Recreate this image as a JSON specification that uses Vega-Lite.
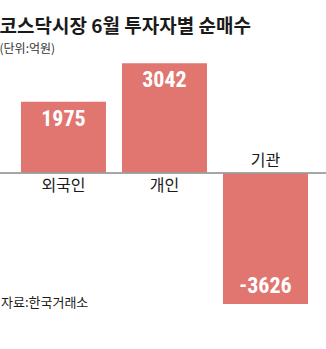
{
  "$schema": "https://vega.github.io/schema/vega-lite/v6.json",
  "width": 326,
  "height": 291,
  "autosize": {"type": "none"},
  "padding": {"left": 0, "right": 0, "top": 58, "bottom": 0},
  "background": "#ffffff",
  "config": {"view": {"stroke": null}},
  "title": {
    "text": "코스닥시장 6월 투자자별 순매수",
    "subtitle": "(단위:억원)",
    "anchor": "start",
    "offset": 3,
    "font": "Noto Sans CJK KR",
    "fontSize": 19,
    "fontWeight": "bold",
    "color": "#1a1a1a",
    "subtitleFont": "Noto Sans CJK KR",
    "subtitleFontSize": 12,
    "subtitleColor": "#333333",
    "subtitlePadding": 7
  },
  "data": {
    "values": [
      {"investor": "외국인", "value": 1975},
      {"investor": "개인", "value": 3042},
      {"investor": "기관", "value": -3626}
    ]
  },
  "encoding": {
    "x": {
      "field": "investor",
      "type": "nominal",
      "sort": null,
      "axis": null,
      "scale": {"paddingInner": 0.1584, "paddingOuter": 0.193, "align": 0.538}
    }
  },
  "layer": [
    {
      "mark": {"type": "bar", "color": "#e17570"},
      "encoding": {
        "y": {"field": "value", "type": "quantitative", "axis": null,
              "scale": {"domain": [-4875, 3186], "nice": false, "zero": false}}
      }
    },
    {
      "mark": {"type": "rule", "color": "#9a9a9a", "strokeWidth": 1},
      "encoding": {"x": null, "y": {"datum": 0}}
    },
    {
      "transform": [{"filter": "datum.value >= 0"}],
      "mark": {"type": "text", "baseline": "top", "dy": 7, "fontSize": 22, "fontWeight": "bold",
               "font": "'Liberation Sans Narrow', 'Roboto Condensed', Roboto, sans-serif", "color": "#ffffff"},
      "encoding": {
        "y": {"field": "value", "type": "quantitative"},
        "text": {"field": "value", "type": "nominal"}
      }
    },
    {
      "transform": [{"filter": "datum.value < 0"}],
      "mark": {"type": "text", "baseline": "bottom", "dy": -6, "fontSize": 22, "fontWeight": "bold",
               "font": "'Liberation Sans Narrow', 'Roboto Condensed', Roboto, sans-serif", "color": "#ffffff"},
      "encoding": {
        "y": {"field": "value", "type": "quantitative"},
        "text": {"field": "value", "type": "nominal"}
      }
    },
    {
      "transform": [{"filter": "datum.value >= 0"}],
      "mark": {"type": "text", "baseline": "top", "dy": 5, "fontSize": 16,
               "font": "Noto Sans CJK KR", "color": "#1a1a1a"},
      "encoding": {
        "y": {"datum": 0},
        "text": {"field": "investor", "type": "nominal"}
      }
    },
    {
      "transform": [{"filter": "datum.value < 0"}],
      "mark": {"type": "text", "baseline": "bottom", "dy": -4, "fontSize": 16,
               "font": "Noto Sans CJK KR", "color": "#1a1a1a"},
      "encoding": {
        "y": {"datum": 0},
        "text": {"field": "investor", "type": "nominal"}
      }
    },
    {
      "data": {"values": [{"source": "자료:한국거래소"}]},
      "mark": {"type": "text", "align": "left", "baseline": "middle", "fontSize": 13,
               "font": "Noto Sans CJK KR", "color": "#1a1a1a"},
      "encoding": {
        "x": {"value": 1},
        "y": {"datum": -3590},
        "text": {"field": "source", "type": "nominal"}
      }
    }
  ]
}
